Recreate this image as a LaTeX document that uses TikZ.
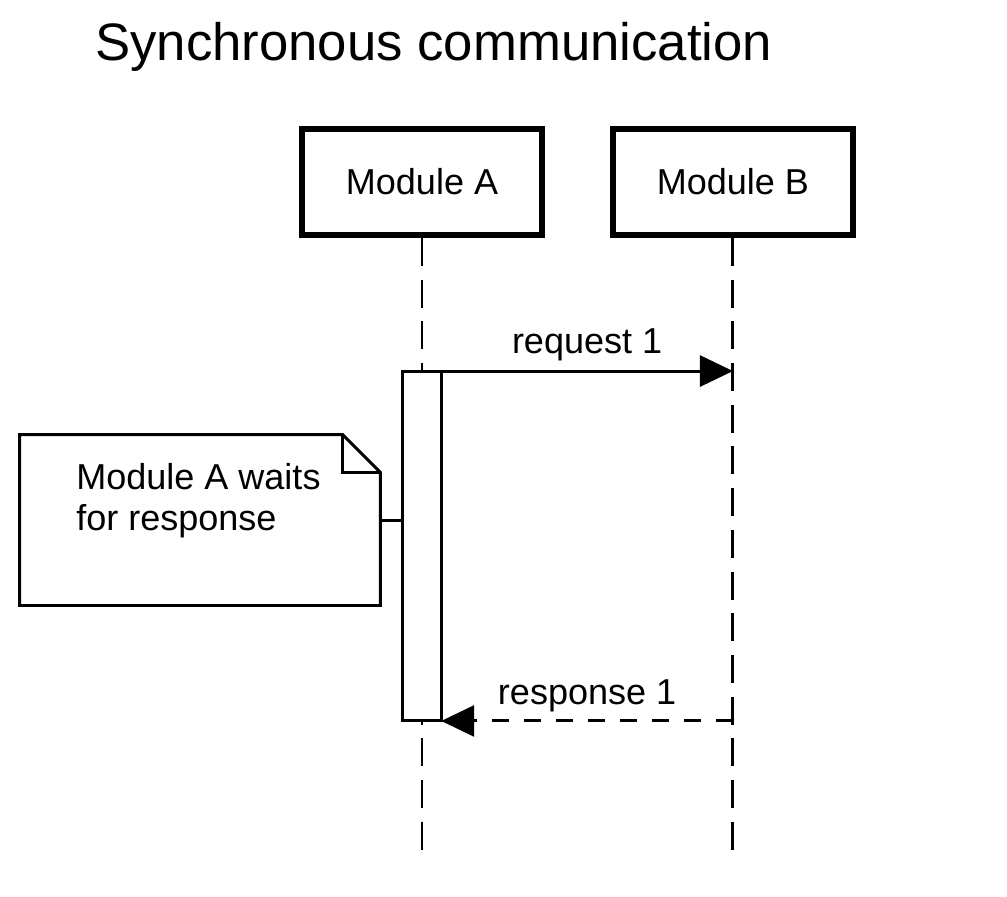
\documentclass[tikz,border=0pt]{standalone}
\usepackage{fontspec}
\setmainfont{Liberation Sans}
\usetikzlibrary{arrows.meta, positioning}

\begin{document}
\begin{tikzpicture}[
    x=0.02cm, y=-0.02cm, >={Triangle[length=0.66cm, width=0.62cm]},
    font=\fontsize{20.5}{23}\selectfont,
    modbox/.style={rectangle, draw=black, line width=3.4pt, fill=white, minimum width=4.8cm, minimum height=2.12cm, inner sep=0pt},
    actbox/.style={rectangle, draw=black, line width=1.7pt, fill=white, minimum width=0.77cm, minimum height=7cm, inner sep=0pt, outer sep=0pt},
    notebox/.style={rectangle, minimum width=7.22cm, minimum height=3.42cm, inner sep=0pt, outer sep=0pt},
    lifeline/.style={draw, line width=1.7pt, dash pattern=on 0.56cm off 0.274cm},
    msgline/.style={draw, ->, line width=1.7pt},
    msglabel/.style={midway, anchor=base, yshift=0.36cm, inner sep=0pt},
    line/.style={draw, line width=1.7pt}
  ]
  \useasboundingbox (0,0) rectangle (1007,896);
  \node (title) [anchor=base west, inner sep=0pt, font=\fontsize{30}{36}\selectfont] at (95,60) {Synchronous communication};

  % modules and lifelines
  \node (modA) [modbox] at (422,182) {Module A};
  \node (modB) [modbox, right=1.30cm of modA] {Module B};
  \coordinate (endA) at (422,853);
  \coordinate (endB) at (endA -| modB);
  \draw[lifeline] (modA) -- (endA);
  \draw[lifeline] (modB) -- (endB);

  \node (act) [actbox] at (422,546) {};

  % note
  \node (note) [notebox] at (200,520) {};
  \draw[line] (note.north west) -- ([xshift=-0.76cm]note.north east) -- ([yshift=-0.76cm]note.north east) -- (note.south east) -- (note.south west) -- cycle;
  \draw[line] ([xshift=-0.76cm]note.north east) |- ([yshift=-0.76cm]note.north east);
  \node (notetext) [anchor=base west, align=left, inner sep=0pt] at (76,530) {Module A waits\\for response};
  \draw[line] (note.east) -- (note.east -| act.west);

  % messages
  \draw[msgline] (act.north east) -- node[msglabel] {request 1} (act.north east -| endB);
  \draw[msgline, dash pattern=on 0.34cm off 0.3cm] (act.south east -| endB) -- node[msglabel, yshift=-0.04cm] {response 1} (act.south east);
\end{tikzpicture}
\end{document}
